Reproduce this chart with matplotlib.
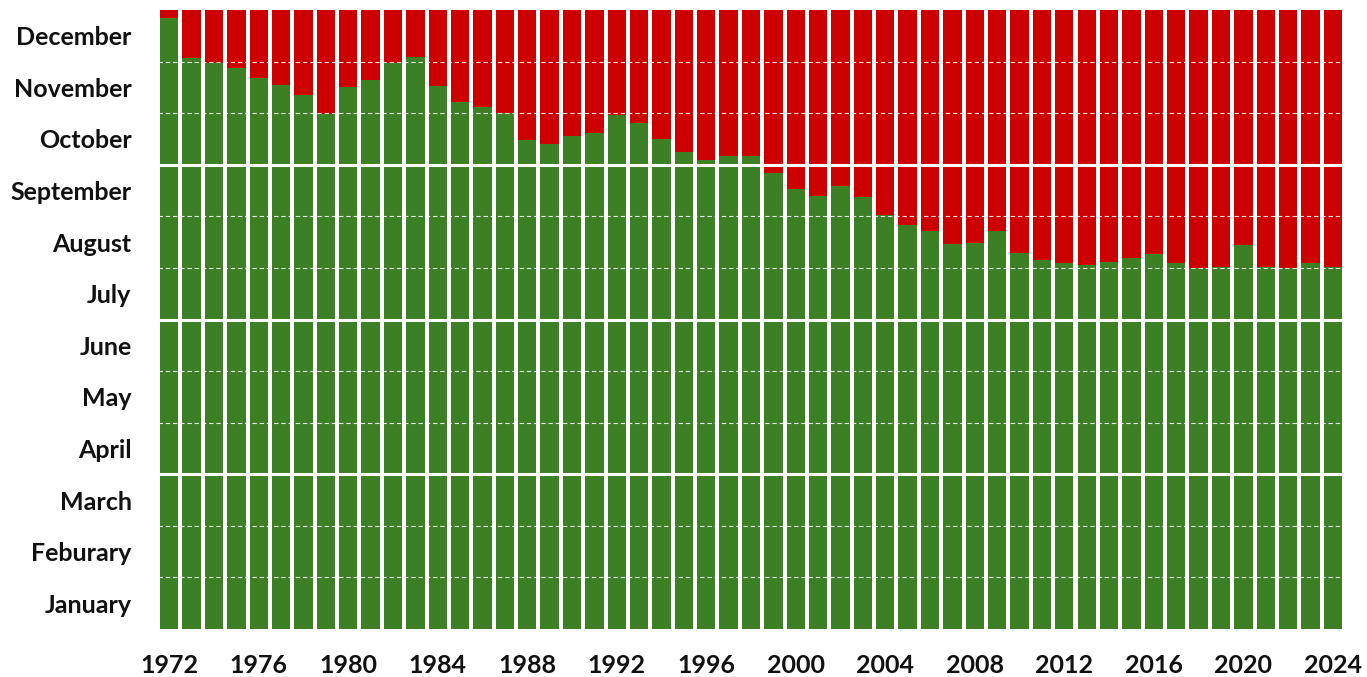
import matplotlib
matplotlib.use("Agg")
import matplotlib.pyplot as plt
import numpy as np

# Year and the point in the calendar year (in months from 1 January) reached
years = list(range(1972, 2025))
green_months = [
    11.85, 11.07, 10.97, 10.88, 10.68, 10.55, 10.35, 9.98, 10.51, 10.64,
    10.97, 11.09, 10.53, 10.22, 10.12, 10.00, 9.48, 9.40, 9.56, 9.62,
    9.97, 9.81, 9.50, 9.25, 9.09, 9.17, 9.17, 8.84, 8.53, 8.39,
    8.59, 8.38, 8.03, 7.83, 7.72, 7.46, 7.48, 7.72, 7.29, 7.15,
    7.10, 7.06, 7.12, 7.19, 7.27, 7.10, 7.00, 7.02, 7.44, 7.02,
    7.00, 7.10, 7.02,
]
month_labels = ["January", "Feburary", "March", "April", "May", "June",
                "July", "August", "September", "October", "November", "December"]
year_ticks = list(range(1972, 2025, 4))

GREEN = "#3d7f25"
RED = "#cc0000"

plt.rcParams["font.family"] = ["Lato", "DejaVu Sans"]

fig = plt.figure(figsize=(13.67, 6.77), dpi=100)
ax = fig.add_axes([0.1156, 0.0709, 0.8676, 0.9143])

x = np.array(years)
g = np.array(green_months)
ax.bar(x, g, width=0.82, color=GREEN, zorder=2, linewidth=0)
ax.bar(x, 12 - g, bottom=g, width=0.82, color=RED, zorder=2, linewidth=0)

# Month boundaries: solid at quarters, dashed otherwise
for m in range(1, 12):
    if m % 3 == 0:
        ax.axhline(m, color="white", lw=2.2, zorder=3)
    else:
        ax.axhline(m, color="white", lw=0.8, ls=(0, (4, 2.5)), alpha=0.85, zorder=3)

ax.set_xlim(years[0] - 0.5, years[-1] + 0.5)
ax.set_ylim(0, 12)
ax.set_yticks(np.arange(12) + 0.5)
ax.set_yticklabels(month_labels)
ax.set_xticks(year_ticks)
ax.set_xticklabels([str(y) for y in year_ticks])
ax.tick_params(length=0, labelsize=18, colors="#111111")
ax.tick_params(axis="y", pad=19)
ax.tick_params(axis="x", pad=18)
for lbl in ax.get_xticklabels() + ax.get_yticklabels():
    lbl.set_fontweight("bold")
for s in ax.spines.values():
    s.set_visible(False)

fig.savefig("out.png", dpi=100, facecolor="white")
